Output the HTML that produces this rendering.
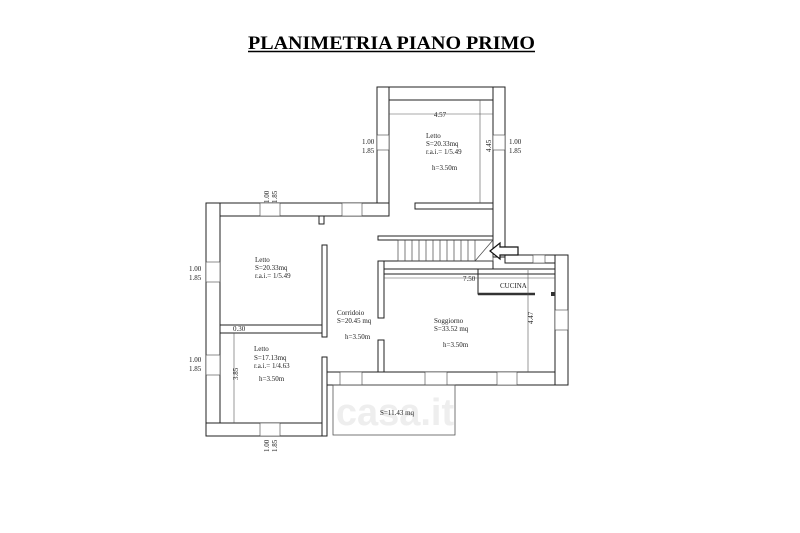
<!DOCTYPE html>
<html><head><meta charset="utf-8"><style>
html,body{margin:0;padding:0;background:#fff;width:800px;height:533px;overflow:hidden}
svg{display:block}
text{font-family:"Liberation Serif",serif;fill:#222}
</style></head><body>
<svg width="800" height="533" viewBox="0 0 800 533" xmlns="http://www.w3.org/2000/svg">
<text x="248" y="49" font-size="19" font-weight="bold" textLength="287" lengthAdjust="spacingAndGlyphs" style="fill:#000">PLANIMETRIA PIANO PRIMO</text>
<line x1="248" y1="51.5" x2="535" y2="51.5" stroke="#000" stroke-width="1.5"/>
<text x="395" y="425" text-anchor="middle" font-size="38" font-weight="bold" style="fill:#eee;font-family:'Liberation Sans',sans-serif">casa.it</text>
<g fill="#fff" stroke="#222" stroke-width="1">
<rect x="377" y="87" width="128" height="13"/>
<rect x="377" y="87" width="12" height="129"/>
<rect x="493" y="87" width="12" height="170"/>
<rect x="415" y="203" width="78" height="6"/>
<rect x="206" y="203" width="183" height="13"/>
<rect x="319" y="216" width="5" height="8"/>
<rect x="206" y="203" width="14" height="233"/>
<rect x="206" y="423" width="121" height="13"/>
<rect x="322" y="357" width="5" height="79"/>
<rect x="322" y="245" width="5" height="92"/>
<rect x="220" y="325" width="102" height="8"/>
<rect x="327" y="372" width="241" height="13"/>
<rect x="555" y="255" width="13" height="130"/>
<rect x="505" y="255" width="50" height="8"/>
<rect x="378" y="236" width="115" height="4"/>
<rect x="378" y="261" width="115" height="8"/>
<rect x="384" y="269" width="171" height="5"/>
<rect x="378" y="261" width="6" height="57"/>
<rect x="378" y="340" width="6" height="32"/>
</g>
<g fill="#fff" stroke="#444" stroke-width="0.6">
<rect x="377" y="135" width="12" height="15"/><rect x="493" y="135" width="12" height="15"/>
<rect x="260" y="203" width="20" height="13"/><rect x="342" y="203" width="20" height="13"/>
<rect x="206" y="262" width="14" height="20"/><rect x="206" y="355" width="14" height="20"/>
<rect x="260" y="423" width="20" height="13"/>
<rect x="340" y="372" width="22" height="13"/><rect x="425" y="372" width="22" height="13"/><rect x="497" y="372" width="20" height="13"/>
<rect x="555" y="310" width="13" height="20"/><rect x="533" y="255" width="12" height="8"/>
</g>
<g stroke="#444" stroke-width="0.7">
<rect x="398" y="240" width="95" height="21" fill="none"/>
<line x1="405" y1="240" x2="405" y2="261"/><line x1="412" y1="240" x2="412" y2="261"/><line x1="419" y1="240" x2="419" y2="261"/><line x1="426" y1="240" x2="426" y2="261"/><line x1="433" y1="240" x2="433" y2="261"/><line x1="440" y1="240" x2="440" y2="261"/><line x1="447" y1="240" x2="447" y2="261"/><line x1="454" y1="240" x2="454" y2="261"/><line x1="461" y1="240" x2="461" y2="261"/><line x1="468" y1="240" x2="468" y2="261"/><line x1="475" y1="240" x2="475" y2="261"/>
<line x1="475" y1="261" x2="493" y2="240"/>
</g>
<path d="M490 251 L500 243 L500 247 L518 247 L518 255 L500 255 L500 259 Z" fill="#fff" stroke="#111" stroke-width="1.2"/>
<rect x="333" y="385" width="122" height="50" fill="none" stroke="#555" stroke-width="0.8"/>
<path d="M478 269 V294 H535" fill="none" stroke="#222" stroke-width="1"/>
<line x1="478" y1="294" x2="535" y2="294" stroke="#333" stroke-width="2.5"/>
<rect x="551" y="292" width="4" height="4" fill="#333"/>
<line x1="528" y1="270" x2="528" y2="372" stroke="#555" stroke-width="0.6"/>
<g stroke="#555" stroke-width="0.6">
<line x1="389" y1="114" x2="493" y2="114"/><line x1="480" y1="100" x2="480" y2="203"/>
<line x1="384" y1="278" x2="555" y2="278"/><line x1="234" y1="333" x2="234" y2="423"/>
</g>
<g font-size="7">
<text x="440" y="117" text-anchor="middle">4.57</text>
<text x="426" y="138">Letto</text><text x="426" y="146">S=20.33mq</text><text x="426" y="154">r.a.i.= 1/5.49</text><text x="432" y="170">h=3.50m</text>
<text x="495" y="160" transform="rotate(-90 489 158)">4.45</text>
<text x="362" y="144">1.00</text><text x="362" y="153">1.85</text>
<text x="509" y="144">1.00</text><text x="509" y="153">1.85</text>
<text x="255" y="262">Letto</text><text x="255" y="270">S=20.33mq</text><text x="255" y="278">r.a.i.= 1/5.49</text>
<text x="189" y="271">1.00</text><text x="189" y="280">1.85</text>
<text x="189" y="362">1.00</text><text x="189" y="371">1.85</text>
<text x="233" y="331">0.30</text>
<text x="254" y="351">Letto</text><text x="254" y="360">S=17.13mq</text><text x="254" y="368">r.a.i.= 1/4.63</text><text x="259" y="381">h=3.50m</text>
<text x="337" y="315">Corridoio</text><text x="337" y="323">S=20.45 mq</text><text x="345" y="339">h=3.50m</text>
<text x="434" y="323">Soggiorno</text><text x="434" y="331">S=33.52 mq</text><text x="443" y="347">h=3.50m</text>
<text x="463" y="281">7.50</text><text x="500" y="288">CUCINA</text>
<text x="527" y="330" transform="rotate(-90 527 324)">4.47</text>
<text x="380" y="415">S=11.43 mq</text>
</g>
<g font-size="7">
<text transform="translate(269 203) rotate(-90)">1.00</text><text transform="translate(277 203) rotate(-90)">1.85</text>
<text transform="translate(269 452) rotate(-90)">1.00</text><text transform="translate(277 452) rotate(-90)">1.85</text>
<text transform="translate(238 380) rotate(-90)">3.85</text>
</g>
</svg>
</body></html>
